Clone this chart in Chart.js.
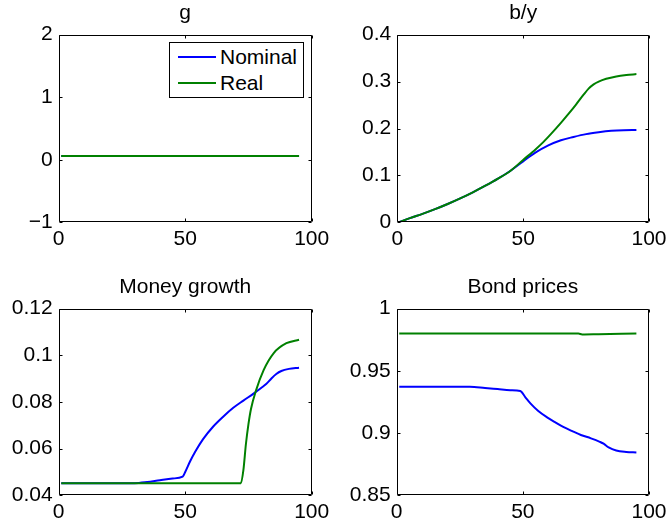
<!DOCTYPE html>
<html>
<head>
<meta charset="utf-8">
<script src="https://cdn.jsdelivr.net/npm/chart.js@4"></script>
<style>
  body { margin: 0; background: #fff; }
  #fig { position: relative; width: 667px; height: 525px; overflow: hidden; background: #fff; }
  #fig canvas { position: absolute; left: 0; top: 0; }
  #legend {
    position: absolute; left: 169px; top: 42px; width: 133px; height: 54px;
    border: 1px solid #000; background: #fff;
    font: 21px "Liberation Sans", Arial, sans-serif; color: #000;
  }
  #legend .row { position: absolute; left: 8px; height: 26px; line-height: 26px; display: flex; align-items: center; }
  #legend .swatch { display: inline-block; width: 38px; height: 2px; margin-right: 4px; }
</style>
</head>
<body>
<div id="fig">
  <canvas id="cG" width="667" height="525"></canvas>
  <canvas id="cBY" width="667" height="525"></canvas>
  <canvas id="cMoney" width="667" height="525"></canvas>
  <canvas id="cBond" width="667" height="525"></canvas>
  <div id="legend"></div>
</div>
<script>
// ---- data ----
const seriesNames = ["Nominal", "Real"];
const seriesColors = ["#0000ff", "#008000"];
const xTicks = [0, 50, 100];

// g
const gT = [1, 95];
const gNominal = [0.06, 0.06];
const gReal = [0.06, 0.06];
const gTicks = [-1, 0, 1, 2];

// b/y
const byNominalT = [1, 5, 10, 15, 20, 25, 30, 35, 40, 45, 50, 55, 60, 65, 70, 75, 80, 85, 90, 95];
const byNominal  = [0.001, 0.009, 0.018, 0.028, 0.039, 0.051, 0.064, 0.078, 0.093, 0.110, 0.130, 0.149, 0.164, 0.175, 0.182, 0.188, 0.192, 0.195, 0.1965, 0.197];
const byRealT = [1, 5, 10, 15, 20, 25, 30, 35, 40, 45, 50, 55, 58, 61, 65, 68, 71, 74, 76, 78, 80, 83, 87, 91, 95];
const byReal  = [0.001, 0.009, 0.018, 0.028, 0.039, 0.051, 0.064, 0.078, 0.093, 0.110, 0.133, 0.156, 0.171, 0.188, 0.212, 0.231, 0.251, 0.272, 0.285, 0.294, 0.300, 0.306, 0.311, 0.314, 0.316];
const byTicks = [0, 0.1, 0.2, 0.3, 0.4];

// Money growth
const moneyNominalT = [1, 30, 35, 40, 45, 49, 50, 52, 54, 57, 61, 65, 69, 73, 77, 80, 82, 84, 86, 88, 91, 95];
const moneyNominal  = [0.0452, 0.0452, 0.0457, 0.0465, 0.0472, 0.0480, 0.0500, 0.0547, 0.0588, 0.0640, 0.0694, 0.0737, 0.0775, 0.0806, 0.0836, 0.0860, 0.0877, 0.0900, 0.0920, 0.0933, 0.0942, 0.0947];
const moneyRealT = [1, 72, 73, 74, 75, 76, 78, 81, 85, 90, 95];
const moneyReal  = [0.0452, 0.0452, 0.0508, 0.0620, 0.0705, 0.0770, 0.0850, 0.0937, 0.1010, 0.1052, 0.1067];
const moneyTicks = [0.04, 0.06, 0.08, 0.1, 0.12];

// Bond prices
const bondNominalT = [1, 29, 35, 40, 45, 49, 51, 53, 56, 59.6, 63, 66, 70, 73, 77, 80.5, 82, 84, 87, 91, 95];
const bondNominal  = [0.9373, 0.9373, 0.9363, 0.9354, 0.9345, 0.9338, 0.9288, 0.9239, 0.9180, 0.9127, 0.9085, 0.9050, 0.9012, 0.8985, 0.8958, 0.8930, 0.8915, 0.8885, 0.8860, 0.8849, 0.8845];
const bondRealT = [1, 72, 73.5, 80, 95];
const bondReal  = [0.9800, 0.9800, 0.9793, 0.9795, 0.9800];
const bondTicks = [0.85, 0.9, 0.95, 1];

const FONT = "'Liberation Sans', Arial, sans-serif";
const FONT_SIZE = 21;
const Y_W = 50;      // y axis box width
const X_H = 25;      // x axis box height
const TITLE_H = FONT_SIZE * 1.2 + 9;

// MATLAB style box with inward ticks
const boxPlugin = {
  id: "box",
  afterDraw(chart) {
    const ctx = chart.ctx, a = chart.chartArea;
    const xs = chart.scales.x, ys = chart.scales.y;
    const l = Math.round(a.left) + 0.5, r = Math.round(a.right) - 0.5;
    const t = Math.round(a.top) + 0.5, b = Math.round(a.bottom) - 0.5;
    ctx.save();
    ctx.strokeStyle = "#000";
    ctx.lineWidth = 1;
    ctx.beginPath();
    ctx.rect(l, t, r - l, b - t);
    xs.ticks.forEach(tk => {
      const p = Math.round(xs.getPixelForValue(tk.value)) + 0.5;
      ctx.moveTo(p, b); ctx.lineTo(p, b - 3);
      ctx.moveTo(p, t); ctx.lineTo(p, t + 3);
    });
    ys.ticks.forEach(tk => {
      const p = Math.round(ys.getPixelForValue(tk.value)) + 0.5;
      ctx.moveTo(l, p); ctx.lineTo(l + 3, p);
      ctx.moveTo(r, p); ctx.lineTo(r - 3, p);
    });
    ctx.stroke();
    ctx.restore();
  }
};

function pts(T, V) {
  return T.map((t, i) => ({ x: t, y: V[i] }));
}

function makePanel(id, title, nomT, nom, realT, real, yTicks, area) {
  const datasets = [
    { label: seriesNames[0], data: pts(nomT, nom), borderColor: seriesColors[0], order: 1 },
    { label: seriesNames[1], data: pts(realT, real), borderColor: seriesColors[1], order: 0 }
  ].map(d => Object.assign(d, {
    borderWidth: 2, pointRadius: 0, fill: false, cubicInterpolationMode: "monotone"
  }));

  new Chart(document.getElementById(id), {
    type: "line",
    data: { datasets },
    plugins: [boxPlugin],
    options: {
      responsive: false,
      animation: false,
      devicePixelRatio: 1,
      events: [],
      layout: {
        padding: {
          left: area.L - Y_W,
          right: 667 - area.R,
          top: area.T - TITLE_H,
          bottom: 525 - area.B - X_H
        }
      },
      plugins: {
        legend: { display: false },
        tooltip: { enabled: false },
        title: {
          display: true, text: title, fullSize: false, color: "#000",
          font: { family: FONT, size: FONT_SIZE, weight: "normal" },
          padding: { top: 0, bottom: 9 }
        }
      },
      scales: {
        x: {
          type: "linear", min: 0, max: 100,
          grid: { display: false, drawTicks: false },
          border: { display: false },
          afterBuildTicks: s => { s.ticks = xTicks.map(v => ({ value: v })); },
          afterFit: s => { s.height = X_H; s.paddingLeft = 0; s.paddingRight = 0; },
          ticks: { color: "#000", padding: 4, maxRotation: 0, font: { family: FONT, size: FONT_SIZE } }
        },
        y: {
          type: "linear", min: yTicks[0], max: yTicks[yTicks.length - 1],
          grid: { display: false, drawTicks: false },
          border: { display: false },
          afterBuildTicks: s => { s.ticks = yTicks.map(v => ({ value: v })); },
          afterFit: s => { s.width = Y_W; s.paddingTop = 0; s.paddingBottom = 0; },
          ticks: {
            color: "#000", padding: 6, font: { family: FONT, size: FONT_SIZE },
            callback: v => String(v).replace("-", "\u2212")
          }
        }
      }
    }
  });
}

makePanel("cG", "g", gT, gNominal, gT, gReal, gTicks, { L: 58.7, R: 311.7, T: 34.7, B: 222.3 });
makePanel("cBY", "b/y", byNominalT, byNominal, byRealT, byReal, byTicks, { L: 397.3, R: 649, T: 34.7, B: 222.3 });
makePanel("cMoney", "Money growth", moneyNominalT, moneyNominal, moneyRealT, moneyReal, moneyTicks, { L: 58.7, R: 311.7, T: 308.7, B: 495.3 });
makePanel("cBond", "Bond prices", bondNominalT, bondNominal, bondRealT, bondReal, bondTicks, { L: 396.7, R: 649, T: 308.7, B: 495.3 });

// legend for the g panel
const legend = document.getElementById("legend");
seriesNames.forEach((name, i) => {
  const row = document.createElement("div");
  row.className = "row";
  row.style.top = (1 + i * 26) + "px";
  const sw = document.createElement("span");
  sw.className = "swatch";
  sw.style.background = seriesColors[i];
  row.appendChild(sw);
  row.appendChild(document.createTextNode(name));
  legend.appendChild(row);
});
</script>
</body>
</html>
